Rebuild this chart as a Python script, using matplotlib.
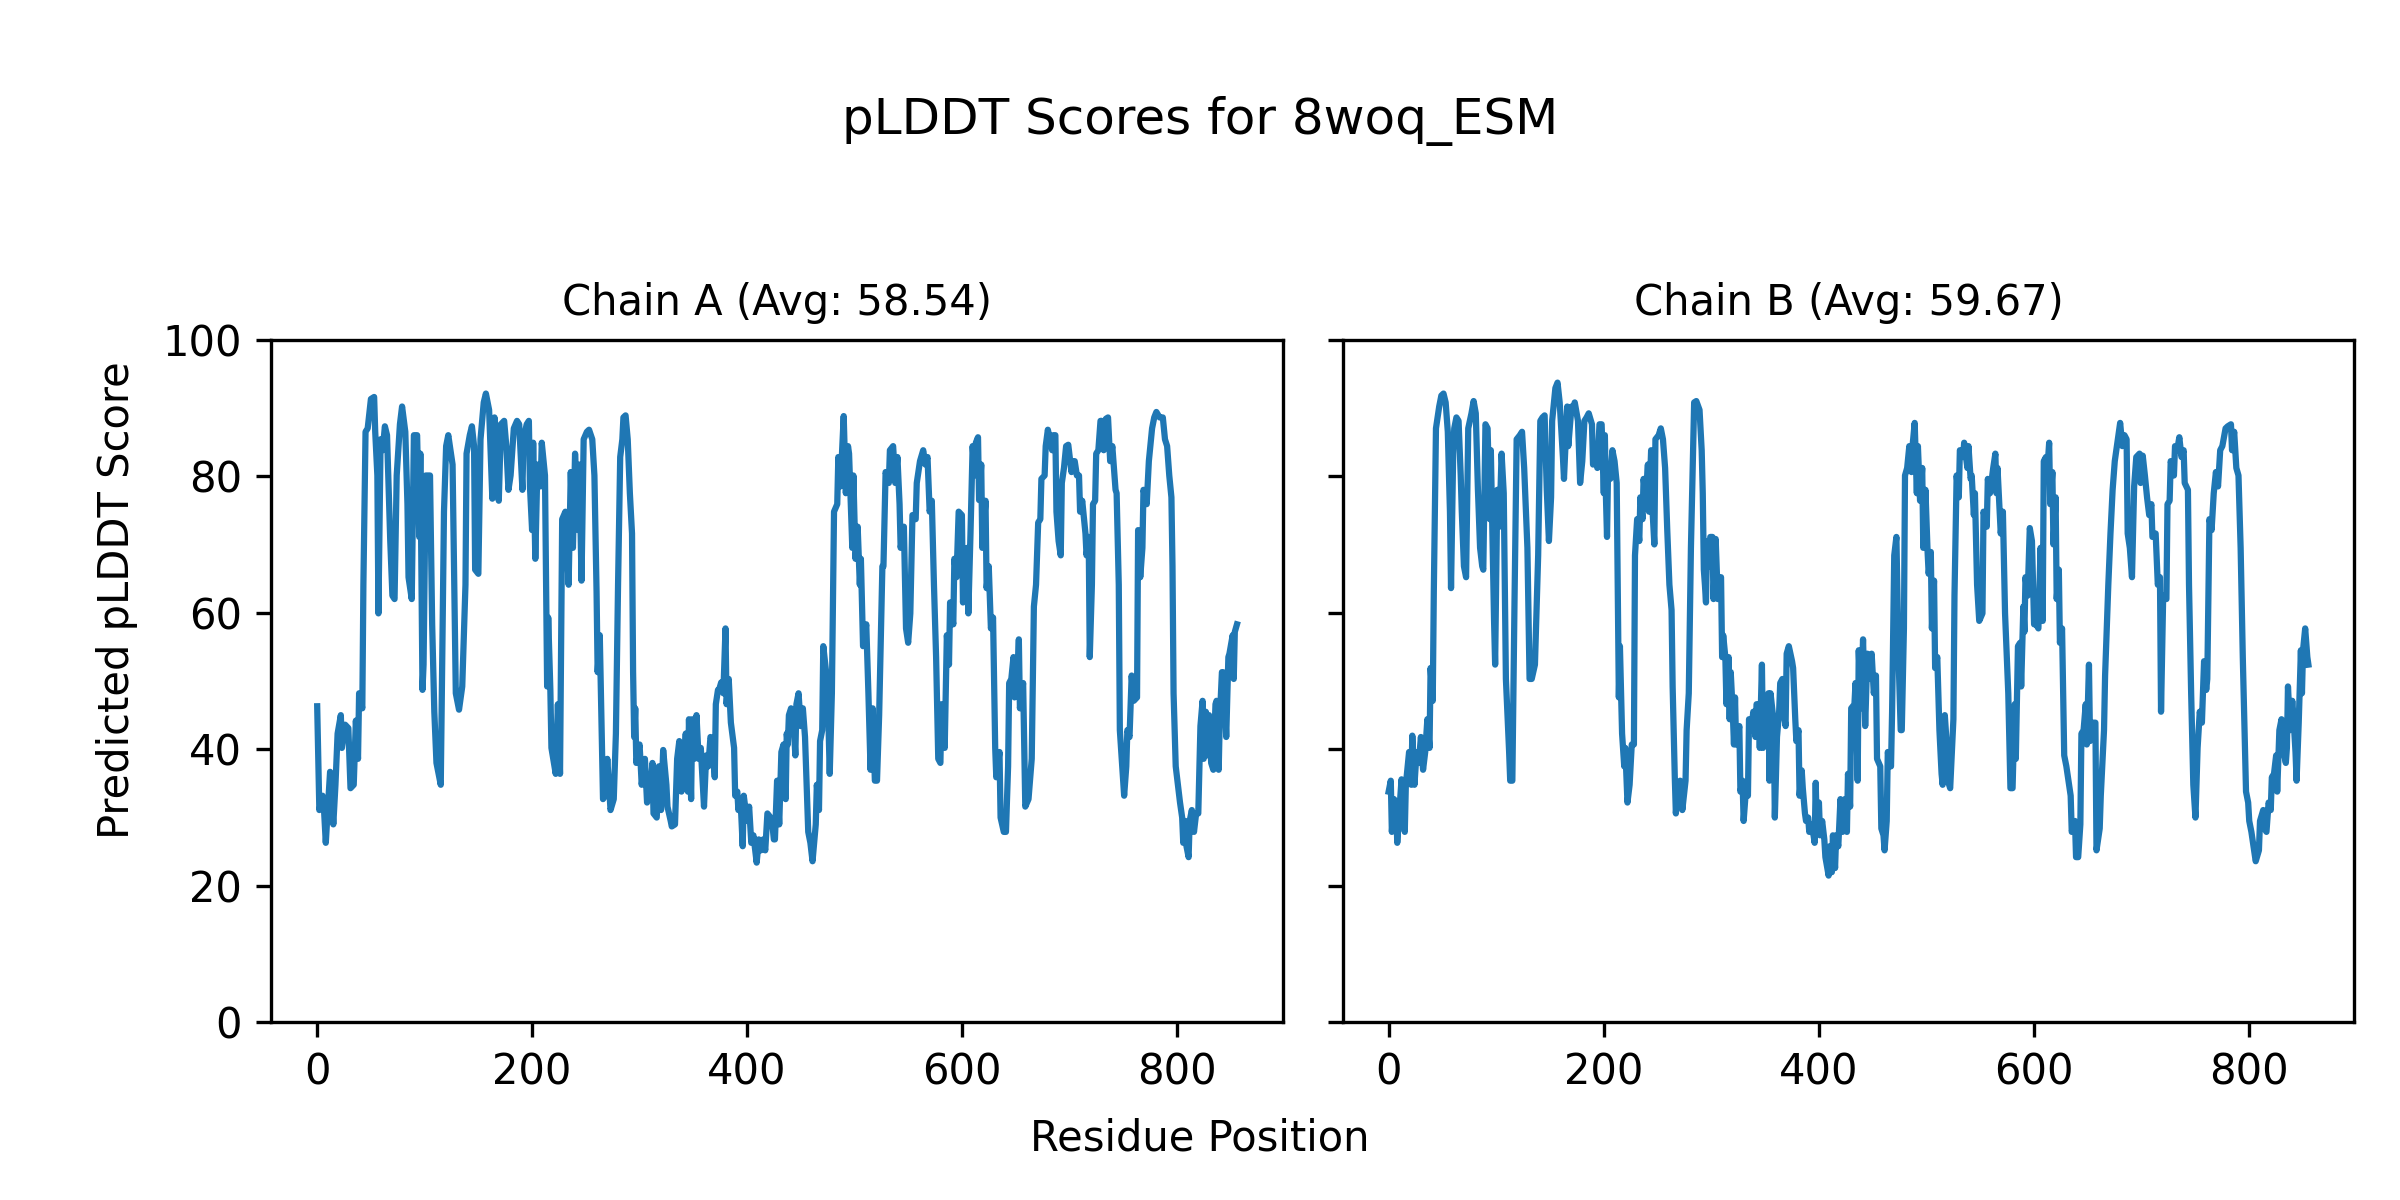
import matplotlib
matplotlib.use("Agg")
import matplotlib.pyplot as plt

# --------------------------------
# pLDDT values read per chain (residue index, score)
# --------------------------------
model_name = "8woq_ESM"
chain_ids = ["A", "B"]
chain_avgs = [58.54, 59.67]

res_a = [0, 2, 5, 6, 8, 9, 12, 15, 17, 19, 22, 23, 26, 29, 31, 34, 36, 38, 39, 42,
         43, 45, 47, 50, 53, 54, 56, 57, 59, 61, 63, 65, 67, 68, 70, 72, 74, 77, 79, 82,
         84, 85, 88, 90, 93, 95, 96, 98, 99, 101, 105, 107, 109, 111, 115, 118, 120, 122, 126, 129,
         132, 135, 138, 139, 142, 144, 146, 147, 150, 152, 155, 157, 160, 163, 165, 167, 169, 171, 174, 176,
         178, 180, 183, 186, 188, 191, 192, 195, 197, 198, 200, 201, 203, 205, 208, 209, 212, 214, 215, 217,
         218, 222, 224, 226, 228, 231, 234, 236, 238, 240, 243, 244, 246, 248, 251, 253, 256, 258, 260, 261,
         263, 266, 268, 270, 273, 276, 278, 280, 282, 284, 285, 287, 289, 291, 293, 294, 295, 296, 297, 300,
         301, 302, 305, 307, 310, 312, 313, 316, 318, 320, 322, 325, 326, 329, 330, 333, 335, 337, 339, 340,
         343, 345, 346, 348, 349, 351, 353, 355, 357, 360, 362, 364, 366, 368, 370, 371, 373, 374, 376, 378,
         380, 381, 383, 385, 388, 389, 391, 392, 394, 396, 397, 400, 402, 404, 406, 408, 409, 411, 413, 415,
         417, 419, 422, 424, 425, 426, 428, 430, 432, 434, 436, 437, 438, 439, 441, 443, 445, 446, 448, 450,
         452, 454, 456, 457, 459, 461, 464, 465, 467, 468, 470, 471, 474, 476, 477, 479, 480, 481, 484, 485,
         487, 490, 492, 494, 495, 498, 499, 501, 503, 505, 506, 508, 511, 513, 515, 517, 519, 521, 523, 526,
         527, 529, 532, 533, 536, 538, 540, 542, 543, 546, 548, 550, 552, 554, 557, 558, 561, 564, 566, 568,
         570, 572, 574, 576, 578, 580, 581, 584, 586, 588, 589, 592, 593, 595, 597, 600, 601, 603, 605, 606,
         608, 610, 612, 613, 615, 616, 618, 619, 622, 623, 625, 627, 629, 631, 632, 635, 636, 639, 641, 643,
         644, 646, 648, 649, 651, 653, 654, 657, 659, 662, 665, 667, 669, 671, 673, 674, 677, 678, 680, 682,
         684, 685, 687, 688, 690, 692, 693, 695, 697, 699, 702, 703, 705, 707, 709, 710, 712, 715, 716, 718,
         719, 721, 722, 724, 725, 727, 729, 730, 732, 734, 736, 738, 740, 743, 744, 746, 747, 749, 751, 753,
         754, 756, 758, 760, 763, 764, 766, 768, 769, 772, 774, 775, 777, 779, 781, 784, 787, 789, 791, 793,
         795, 796, 797, 799, 801, 803, 805, 806, 808, 809, 811, 812, 814, 816, 818, 820, 822, 824, 825, 827,
         828, 830, 832, 834, 836, 837, 839, 840, 842, 843, 845, 846, 848, 849, 852, 853, 854, 856]
score_a = [46.3, 31.1, 33.2, 32.2, 26.3, 29.0, 36.7, 29.0, 34.8, 42.3, 45.0, 40.2, 43.6, 43.1, 34.3, 34.8, 44.2, 38.6, 48.2, 46.0,
           64.1, 86.5, 87.0, 91.3, 91.6, 86.5, 80.1, 59.9, 85.4, 83.8, 87.3, 86.0, 75.9, 70.5, 62.5, 62.0, 80.1, 87.6, 90.2, 86.5,
           75.9, 65.2, 62.0, 86.0, 86.0, 71.1, 83.3, 48.7, 52.4, 80.1, 80.1, 58.3, 45.5, 38.0, 34.8, 74.8, 84.4, 86.0, 81.7, 48.2,
           45.8, 49.2, 64.1, 83.3, 86.0, 87.3, 84.4, 66.3, 65.7, 85.4, 90.8, 92.1, 89.7, 76.7, 88.6, 85.4, 76.4, 87.6, 88.1, 84.4,
           78.0, 80.1, 87.0, 88.1, 87.6, 78.0, 85.4, 87.6, 88.1, 78.5, 72.1, 84.9, 67.9, 81.7, 78.5, 84.9, 80.1, 49.2, 59.3, 48.7,
           40.2, 36.4, 46.6, 36.4, 73.7, 74.8, 64.1, 80.6, 69.5, 83.3, 72.1, 81.7, 64.7, 85.4, 86.5, 86.8, 85.4, 80.1, 63.1, 51.3,
           56.7, 32.7, 33.2, 38.6, 31.1, 32.7, 42.3, 64.1, 82.8, 85.4, 88.6, 88.9, 85.4, 77.5, 71.6, 51.3, 41.8, 46.0, 38.0, 40.7,
           38.0, 34.8, 38.6, 32.2, 33.8, 38.0, 30.6, 30.0, 37.5, 31.1, 39.9, 34.8, 31.6, 29.5, 28.7, 29.0, 38.6, 41.2, 33.8, 34.3,
           42.3, 33.8, 44.4, 32.7, 44.4, 38.6, 45.0, 38.6, 40.2, 31.6, 39.1, 37.5, 41.8, 41.2, 35.9, 46.6, 48.7, 48.7, 49.8, 48.2,
           57.7, 46.6, 50.3, 43.9, 40.2, 33.2, 33.8, 31.1, 32.7, 25.8, 33.2, 29.5, 31.6, 26.3, 27.4, 24.7, 23.4, 26.8, 25.2, 26.8,
           25.2, 30.6, 30.0, 28.4, 26.8, 26.8, 35.4, 29.0, 39.6, 40.7, 32.7, 42.3, 40.7, 45.0, 46.0, 45.0, 39.1, 46.6, 48.2, 43.4,
           46.0, 41.8, 32.7, 27.9, 26.3, 23.6, 29.0, 34.8, 31.1, 41.2, 42.8, 55.1, 50.8, 42.8, 36.4, 48.2, 62.0, 74.8, 75.9, 82.8,
           78.5, 88.8, 77.5, 84.4, 83.3, 69.5, 80.1, 67.9, 72.6, 64.1, 67.9, 55.1, 58.3, 48.2, 37.0, 46.0, 35.4, 35.4, 45.0, 66.8,
           66.8, 80.6, 79.0, 83.8, 84.4, 79.0, 82.8, 75.9, 69.5, 72.6, 57.7, 55.6, 59.9, 74.3, 73.7, 79.0, 82.2, 83.8, 81.7, 82.8,
           74.8, 76.4, 64.1, 53.5, 38.6, 38.0, 46.6, 40.2, 56.7, 52.4, 61.5, 58.3, 67.9, 65.2, 74.8, 74.3, 61.5, 64.1, 69.5, 59.9,
           71.6, 84.4, 80.1, 84.9, 85.7, 76.5, 81.7, 69.5, 76.4, 63.6, 66.8, 57.7, 59.3, 40.2, 35.9, 39.6, 30.0, 27.9, 27.9, 37.5,
           49.7, 50.3, 53.5, 47.6, 48.2, 56.1, 46.0, 49.7, 31.6, 32.7, 38.6, 60.9, 64.1, 73.2, 73.7, 79.6, 80.1, 84.4, 86.8, 85.4,
           83.8, 86.0, 86.0, 74.8, 70.5, 68.4, 79.0, 81.2, 84.4, 84.6, 80.6, 82.2, 82.2, 80.1, 80.1, 74.8, 76.4, 71.6, 68.4, 71.1,
           53.5, 64.1, 75.9, 76.4, 83.3, 83.8, 88.1, 88.1, 83.8, 88.4, 88.6, 82.2, 84.4, 78.0, 77.5, 64.1, 42.8, 38.0, 33.2, 37.5,
           42.8, 41.8, 50.8, 47.1, 47.6, 72.1, 65.2, 69.5, 78.0, 75.9, 82.2, 83.8, 87.0, 88.6, 89.4, 88.6, 88.6, 85.4, 84.4, 80.1,
           76.9, 66.8, 48.2, 37.5, 34.8, 32.2, 30.0, 26.3, 29.5, 25.8, 24.2, 29.5, 31.1, 27.9, 30.6, 30.6, 43.4, 47.1, 38.6, 45.5,
           39.1, 45.0, 38.0, 37.0, 46.6, 47.1, 37.0, 44.4, 51.3, 51.3, 46.0, 41.8, 53.5, 54.0, 56.7, 50.3, 57.2, 58.3]

res_b = [0, 2, 3, 5, 7, 8, 10, 12, 15, 16, 19, 21, 22, 24, 26, 28, 30, 32, 34, 36,
         38, 39, 41, 42, 44, 47, 49, 51, 53, 55, 57, 58, 60, 61, 63, 65, 67, 68, 70, 72,
         74, 77, 79, 81, 83, 85, 87, 88, 90, 92, 94, 95, 98, 99, 101, 103, 105, 107, 109, 112,
         113, 115, 117, 119, 122, 124, 126, 129, 131, 133, 136, 139, 141, 143, 145, 147, 149, 151, 152, 155,
         157, 159, 162, 163, 166, 167, 170, 172, 173, 176, 178, 180, 182, 184, 186, 189, 190, 192, 194, 196,
         198, 200, 201, 202, 203, 204, 206, 208, 210, 212, 214, 215, 217, 219, 220, 222, 224, 226, 228, 229,
         231, 233, 234, 236, 237, 239, 241, 242, 244, 245, 247, 248, 251, 253, 255, 257, 259, 261, 263, 264,
         266, 267, 269, 271, 273, 276, 277, 279, 281, 284, 286, 289, 291, 292, 293, 294, 295, 296, 298, 299,
         301, 302, 304, 306, 307, 309, 310, 311, 313, 314, 316, 317, 318, 320, 321, 322, 323, 326, 327, 329,
         330, 332, 334, 335, 337, 339, 341, 342, 344, 345, 347, 348, 350, 351, 353, 354, 355, 358, 359, 361,
         363, 364, 366, 367, 369, 370, 372, 375, 376, 378, 379, 381, 382, 384, 385, 387, 388, 390, 391, 392,
         395, 396, 397, 398, 400, 401, 403, 405, 406, 409, 410, 412, 413, 415, 416, 418, 420, 422, 424, 426,
         427, 429, 430, 433, 434, 436, 437, 439, 441, 443, 445, 447, 449, 451, 453, 454, 457, 458, 460, 461,
         463, 464, 467, 468, 470, 472, 474, 476, 477, 479, 480, 482, 484, 486, 487, 489, 491, 492, 494, 496,
         497, 499, 501, 502, 504, 505, 507, 508, 510, 512, 514, 515, 517, 519, 521, 522, 525, 526, 528, 530,
         531, 534, 535, 538, 539, 541, 542, 544, 545, 547, 549, 552, 553, 556, 557, 559, 562, 564, 565, 566,
         569, 571, 573, 576, 578, 580, 582, 583, 585, 587, 588, 590, 591, 592, 594, 596, 598, 600, 602, 604,
         606, 608, 609, 611, 612, 614, 615, 617, 618, 620, 621, 623, 624, 626, 628, 630, 631, 634, 635, 638,
         639, 641, 643, 644, 646, 648, 649, 651, 652, 655, 657, 658, 661, 662, 665, 666, 669, 671, 673, 675,
         676, 678, 680, 682, 684, 686, 687, 689, 691, 693, 695, 698, 699, 701, 703, 705, 707, 709, 710, 713,
         715, 717, 718, 720, 723, 724, 726, 727, 730, 731, 733, 735, 737, 739, 740, 743, 744, 746, 748, 750,
         752, 754, 756, 758, 760, 761, 763, 765, 767, 769, 771, 773, 775, 778, 780, 783, 784, 786, 788, 790,
         792, 794, 796, 797, 799, 800, 802, 803, 805, 806, 809, 810, 813, 814, 816, 818, 820, 821, 823, 825,
         826, 828, 830, 832, 834, 835, 836, 838, 840, 841, 843, 844, 846, 848, 849, 850, 852, 854, 855]
score_b = [33.8, 35.4, 27.9, 32.7, 32.2, 26.3, 31.1, 35.6, 27.9, 34.8, 39.6, 34.8, 42.0, 34.8, 39.6, 38.0, 41.8, 37.0, 39.6, 44.4,
           40.2, 51.9, 47.1, 63.1, 87.0, 90.2, 91.8, 92.1, 90.8, 86.5, 74.8, 63.6, 83.3, 87.0, 88.6, 88.1, 80.1, 74.8, 66.8, 65.2,
           87.0, 89.2, 91.0, 89.2, 78.0, 69.5, 66.8, 66.3, 87.6, 87.0, 73.7, 83.8, 58.8, 52.4, 78.0, 72.6, 83.3, 77.5, 50.3, 39.6,
           35.4, 35.4, 61.5, 85.4, 86.0, 86.5, 81.2, 69.5, 50.3, 50.3, 52.4, 68.4, 88.1, 88.6, 88.9, 78.0, 70.5, 76.9, 88.1, 92.9,
           93.7, 90.8, 82.8, 79.6, 90.2, 84.4, 90.2, 90.2, 90.8, 88.1, 79.0, 82.2, 88.1, 88.6, 89.2, 87.6, 81.7, 83.3, 81.2, 87.6,
           87.6, 77.5, 86.0, 76.9, 71.1, 81.2, 79.6, 83.8, 82.2, 79.0, 47.6, 55.1, 42.3, 37.5, 40.2, 32.2, 34.8, 40.7, 40.7, 68.4,
           73.7, 70.5, 76.9, 73.7, 79.6, 76.9, 81.7, 74.8, 83.8, 75.9, 70.0, 85.4, 86.0, 87.0, 85.4, 81.2, 72.1, 64.1, 60.4, 49.2,
           35.9, 30.6, 34.8, 35.4, 31.1, 35.4, 42.8, 48.2, 69.5, 90.8, 91.0, 89.7, 83.8, 77.5, 66.3, 64.1, 61.5, 70.5, 66.8, 71.1,
           71.1, 62.0, 70.8, 62.0, 65.2, 65.2, 53.5, 56.7, 53.5, 46.6, 53.5, 44.4, 51.3, 45.0, 40.7, 47.6, 40.7, 43.4, 33.8, 35.4,
           29.5, 33.8, 33.2, 44.4, 42.8, 45.5, 41.8, 46.6, 46.6, 40.2, 52.4, 40.2, 46.0, 41.2, 48.2, 35.4, 48.2, 43.9, 30.0, 41.8,
           45.5, 49.7, 50.3, 45.5, 43.4, 54.0, 55.1, 52.9, 51.9, 44.4, 41.2, 42.8, 33.2, 36.9, 34.3, 30.6, 29.5, 30.0, 27.9, 29.0,
           27.4, 26.3, 35.1, 28.4, 32.2, 27.4, 29.5, 26.8, 24.2, 21.5, 25.8, 22.0, 27.4, 22.6, 27.4, 25.8, 32.7, 27.9, 32.7, 27.9,
           36.4, 31.6, 46.0, 46.6, 49.7, 35.4, 54.5, 46.0, 56.1, 43.4, 54.0, 50.3, 54.0, 48.2, 50.8, 38.6, 37.5, 28.4, 27.4, 25.2,
           29.5, 39.6, 37.5, 45.5, 68.4, 71.1, 53.5, 42.8, 42.8, 57.7, 80.1, 81.2, 84.4, 80.6, 84.4, 87.8, 77.5, 84.4, 76.4, 81.2,
           69.5, 78.0, 68.9, 65.7, 68.9, 57.7, 64.7, 51.9, 53.5, 42.8, 36.4, 34.8, 45.0, 40.2, 34.8, 34.3, 44.4, 62.5, 80.1, 76.9,
           83.8, 82.8, 84.9, 81.2, 84.4, 79.6, 80.1, 74.3, 77.5, 64.1, 58.8, 59.9, 74.8, 72.6, 79.6, 77.5, 81.2, 83.3, 77.5, 81.2,
           71.6, 74.8, 59.9, 48.2, 34.3, 34.3, 46.6, 38.6, 55.1, 55.6, 49.2, 60.9, 57.2, 65.2, 62.5, 72.4, 70.5, 58.3, 58.3, 57.7,
           69.5, 58.8, 82.2, 82.8, 80.1, 84.9, 75.9, 80.6, 70.0, 76.9, 62.0, 66.3, 55.6, 57.7, 39.1, 37.5, 36.4, 33.2, 27.9, 29.5,
           24.2, 24.2, 29.0, 42.3, 42.8, 46.6, 40.7, 52.4, 41.2, 43.9, 43.9, 25.2, 28.4, 33.2, 42.8, 50.8, 64.1, 71.6, 78.0, 82.2,
           83.3, 85.4, 87.8, 84.4, 86.0, 85.4, 71.6, 69.5, 65.2, 78.5, 82.8, 83.3, 79.0, 83.0, 80.1, 76.9, 74.3, 75.9, 71.1, 71.6,
           64.1, 65.2, 45.5, 62.5, 62.0, 75.9, 76.4, 82.2, 80.1, 84.4, 83.8, 85.7, 82.8, 83.8, 79.0, 78.0, 64.1, 48.2, 34.8, 30.0,
           40.2, 45.5, 43.9, 52.9, 48.7, 50.3, 73.7, 72.1, 77.5, 80.6, 78.5, 83.8, 84.4, 87.0, 87.3, 87.6, 83.8, 86.5, 81.2, 80.1,
           69.5, 53.5, 40.2, 33.8, 32.2, 29.5, 27.9, 26.8, 24.7, 23.6, 25.2, 29.5, 31.1, 28.4, 27.9, 32.2, 31.1, 35.9, 36.4, 39.1,
           33.8, 42.8, 44.4, 39.6, 38.0, 40.2, 49.2, 42.8, 47.1, 45.0, 39.6, 35.4, 43.9, 54.5, 48.2, 54.5, 57.7, 53.5, 52.4]

chain_res = [res_a, res_b]
chain_scores = [score_a, score_b]

# --------------------------------
# Figure
# --------------------------------
fig, axes = plt.subplots(1, 2, figsize=(8, 4), sharey=True)
fig.subplots_adjust(left=0.113, right=0.981, top=0.717, bottom=0.148, wspace=0.059)

for ax, cid, avg, res, sc in zip(axes, chain_ids, chain_avgs, chain_res, chain_scores):
    ax.plot(res, sc, color="#1f77b4", linewidth=1.5)
    ax.set_title(f"Chain {cid} (Avg: {avg:.2f})", fontsize=10)
    ax.set_ylim(0, 100)
    ax.set_xticks([0, 200, 400, 600, 800])

# shared labels live on the figure, centred on the whole canvas
fig.supylabel("Predicted pLDDT Score", fontsize=10, x=0.04)
fig.suptitle(f"pLDDT Scores for {model_name}", fontsize=12, y=0.92)
fig.supxlabel("Residue Position", fontsize=10, y=0.034)

plt.savefig("out.png", dpi=300)
